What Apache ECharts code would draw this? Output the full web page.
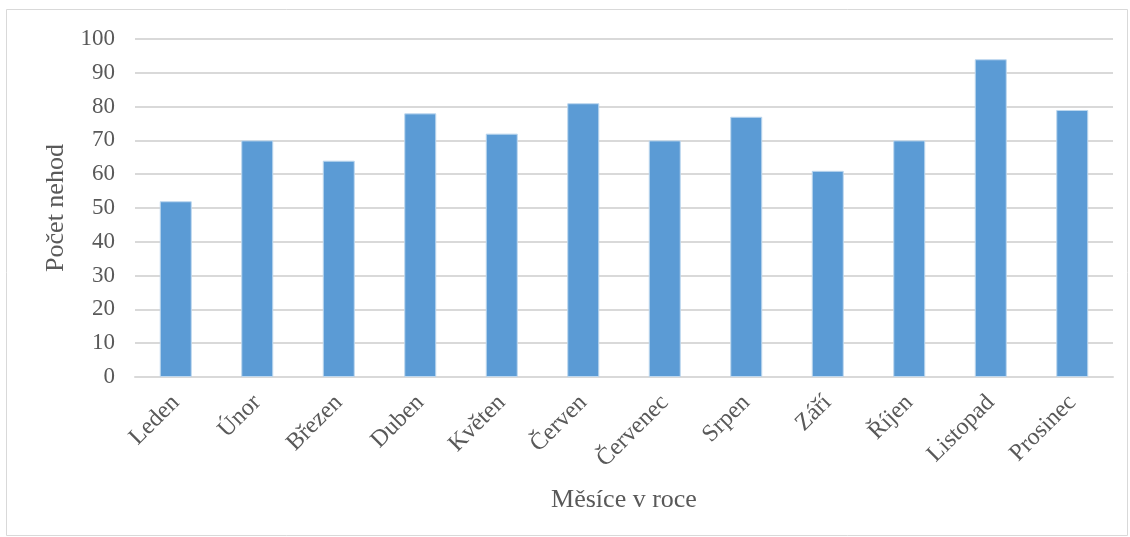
<!DOCTYPE html>
<html>
<head>
<meta charset="utf-8">
<script src="https://cdn.jsdelivr.net/npm/echarts@6/dist/echarts.min.js"></script>
<style>
  html, body { margin: 0; padding: 0; background: #fff; }
  #chart { width: 1130px; height: 537px; }
</style>
</head>
<body>
<div id="chart"></div>
<script>
// Počet nehod podle měsíců
const months = ['Leden', 'Únor', 'Březen', 'Duben', 'Květen', 'Červen', 'Červenec', 'Srpen', 'Září', 'Říjen', 'Listopad', 'Prosinec'];
const accidents = [52, 70, 64, 78, 72, 81, 70, 77, 61, 70, 94, 79];
const yTicks = { min: 0, max: 100, step: 10 };

const serif = '"Liberation Serif", "DejaVu Serif", serif';
const textColor = '#595959';
const gridColor = '#d9d9d9';

const chart = echarts.init(document.getElementById('chart'), null, { renderer: 'canvas' });
chart.setOption({
  animation: false,
  backgroundColor: '#ffffff',
  graphic: [{
    type: 'rect',
    shape: { x: 6.5, y: 9.5, width: 1121, height: 526 },
    style: { fill: 'none', stroke: gridColor, lineWidth: 1 },
    silent: true
  }],
  grid: { left: 135, right: 17, top: 39, bottom: 160, containLabel: false },
  xAxis: {
    type: 'category',
    data: months,
    name: 'Měsíce v roce',
    nameLocation: 'middle',
    nameGap: 110,
    nameTextStyle: { fontFamily: serif, fontSize: 26, color: textColor },
    axisLine: { show: true, lineStyle: { color: gridColor, width: 2 } },
    axisTick: { show: false },
    axisLabel: {
      rotate: 45,
      interval: 0,
      margin: 22,
      fontFamily: serif,
      fontSize: 24,
      color: textColor
    }
  },
  yAxis: {
    type: 'value',
    min: yTicks.min,
    max: yTicks.max,
    interval: yTicks.step,
    name: 'Počet nehod',
    nameLocation: 'middle',
    nameRotate: 90,
    nameGap: 66,
    nameTextStyle: { fontFamily: serif, fontSize: 26, color: textColor },
    axisLine: { show: false },
    axisTick: { show: false },
    axisLabel: { margin: 20, fontFamily: serif, fontSize: 23, color: textColor },
    splitLine: { lineStyle: { color: gridColor, width: 2 } }
  },
  series: [{
    type: 'bar',
    data: accidents,
    barWidth: 32,
    itemStyle: { color: '#5b9bd5', borderColor: '#bdd7ee', borderWidth: 1 }
  }]
});
</script>
</body>
</html>
